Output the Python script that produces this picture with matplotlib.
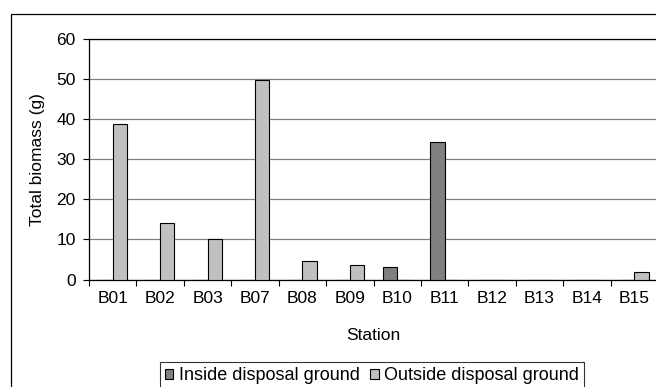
import matplotlib.pyplot as plt
import matplotlib.patches as mpatches
import numpy as np

plt.rcParams['font.family'] = ['Liberation Sans', 'DejaVu Sans']

stations = ['B01', 'B02', 'B03', 'B07', 'B08', 'B09', 'B10', 'B11', 'B12', 'B13', 'B14', 'B15']
inside = [0, 0, 0, 0, 0, 0, 3.2, 34.4, 0, 0, 0, 0]
outside = [38.7, 14.0, 10.0, 49.8, 4.7, 3.5, 0, 0, 0, 0, 0, 1.8]

W, H = 656, 387
fig = plt.figure(figsize=(W / 100, H / 100), dpi=100)

# chart area border (runs off the right and bottom edges)
fig.patches.append(mpatches.Rectangle((11 / W, -0.05), 1.1, 1 - 14 / H + 0.05,
                                      transform=fig.transFigure, fill=False,
                                      edgecolor='black', linewidth=0.9))

ax = fig.add_axes([89 / W, 1 - 279.5 / H, (658 - 89) / W, (279.5 - 39) / H])

x = np.arange(len(stations))
bw = 0.3
ax.bar(x - bw, inside, bw, align='edge', color='#808080', edgecolor='black',
       linewidth=0.8, label='Inside disposal ground', zorder=3)
ax.bar(x, outside, bw, align='edge', color='#c0c0c0', edgecolor='black',
       linewidth=0.8, label='Outside disposal ground', zorder=3)

ax.set_xlim(-0.5, len(stations) - 0.5)
ax.set_ylim(0, 60)
ax.set_yticks(range(0, 61, 10))
ax.yaxis.grid(True, color='#808080', linewidth=0.9)
ax.set_axisbelow(True)

# category ticks sit between stations, labels at the centres
ax.set_xticks(np.arange(-0.5, len(stations), 1))
ax.set_xticklabels([])
ax.set_xticks(x, minor=True)
ax.set_xticklabels(stations, minor=True)
ax.tick_params(axis='x', which='major', direction='out', length=4.5, width=0.8)
ax.tick_params(axis='x', which='minor', length=0, pad=8, labelsize=12.5)
ax.tick_params(axis='y', direction='out', length=4.5, width=0.8, pad=5, labelsize=12.5)

for side in ['left', 'bottom', 'top', 'right']:
    ax.spines[side].set_color('black')
    ax.spines[side].set_linewidth(0.9)

ax.set_xlabel('Station', fontsize=12.5)
ax.xaxis.label.set_va('center')
ax.xaxis.set_label_coords(0.4991, -(335 - 279.5) / (279.5 - 39))
ax.set_ylabel('Total biomass (g)', fontsize=12.5)
ax.yaxis.label.set_va('center')
ax.yaxis.set_label_coords(-(89 - 38) / (658 - 89), 0.5)

leg = fig.legend(loc='upper center', bbox_to_anchor=(372 / W, 1 - 362 / H), ncol=2,
                 fontsize=13, frameon=True, fancybox=False, shadow=False,
                 handlelength=0.45, handleheight=0.45, handletextpad=0.3,
                 columnspacing=0.6, borderpad=0.3, borderaxespad=0)
leg.get_frame().set_edgecolor('black')
leg.get_frame().set_linewidth(0.8)

fig.savefig('out.png', dpi=100)
